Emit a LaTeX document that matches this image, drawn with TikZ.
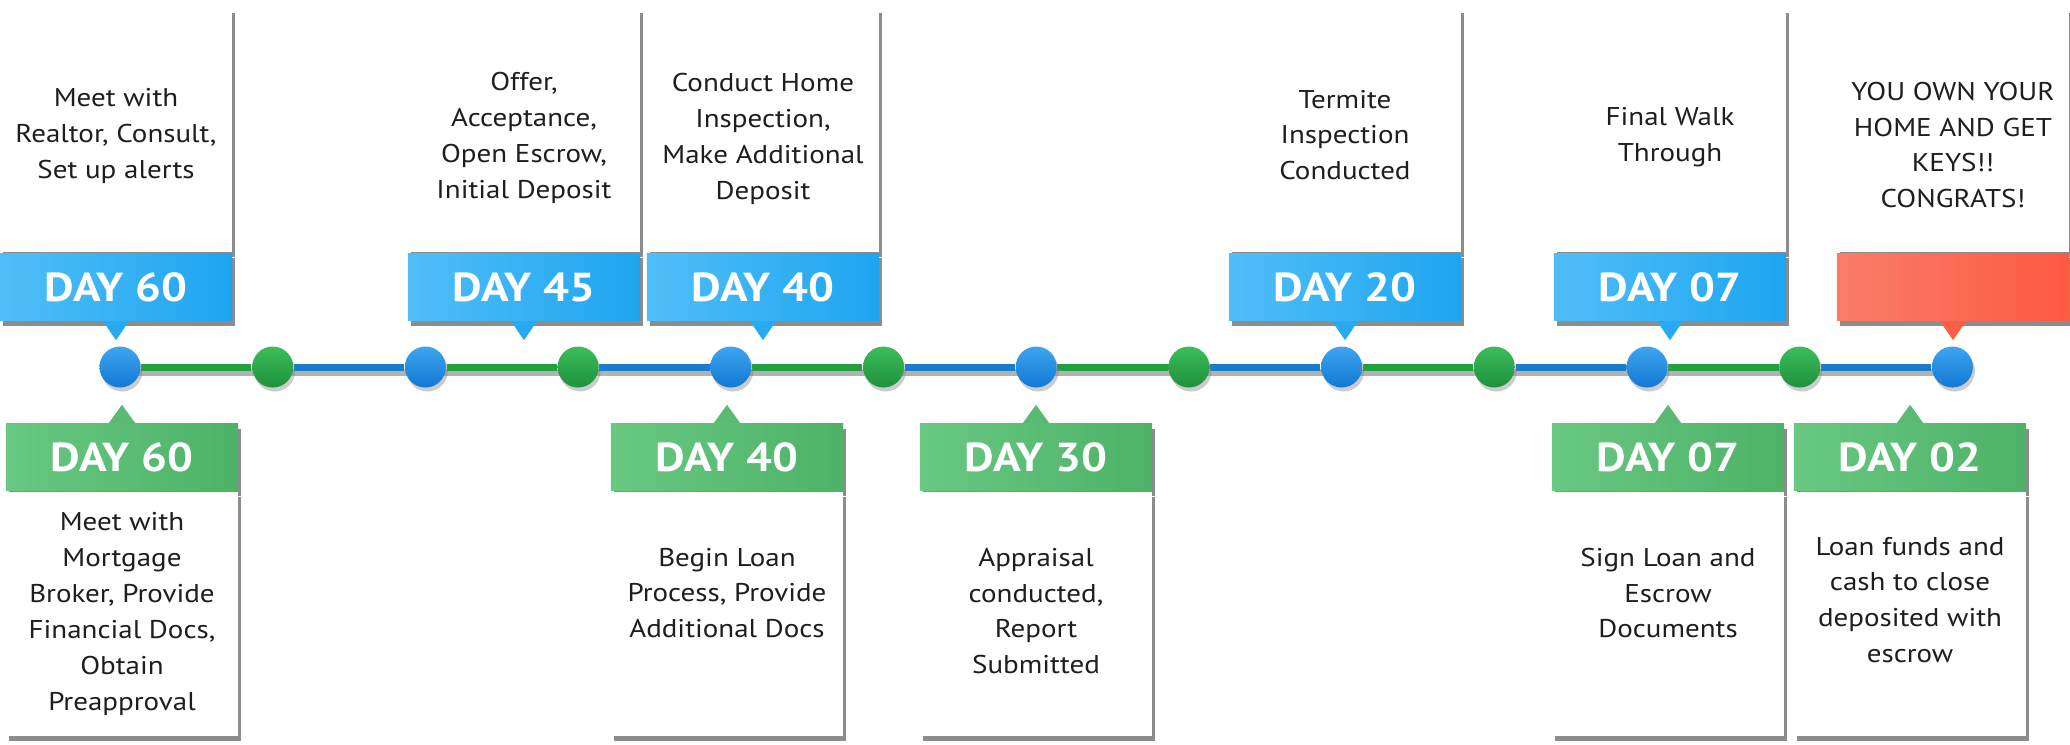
\documentclass[tikz,border=0pt]{standalone}
\usepackage{fontspec}
\setmainfont{PT Sans}[FakeStretch=1.13]
\usetikzlibrary{positioning,calc,shadows,backgrounds}

\definecolor{bluelight}{RGB}{80,190,248}
\definecolor{bluedark}{RGB}{30,165,240}
\definecolor{bluetip}{RGB}{40,170,240}
\definecolor{greenlight}{RGB}{105,200,130}
\definecolor{greendark}{RGB}{78,178,104}
\definecolor{greentip}{RGB}{90,186,115}
\definecolor{redlight}{RGB}{250,125,105}
\definecolor{reddark}{RGB}{252,90,65}
\definecolor{redtip}{RGB}{252,95,72}
\definecolor{lineblue}{RGB}{25,125,205}
\definecolor{linegreen}{RGB}{35,160,65}
\definecolor{dotbluetop}{RGB}{60,165,240}
\definecolor{dotbluebot}{RGB}{20,120,210}
\definecolor{dotgreentop}{RGB}{60,190,90}
\definecolor{dotgreenbot}{RGB}{30,145,60}
\definecolor{bodytext}{RGB}{30,30,30}

\tikzset{
  shade/.style={drop shadow={shadow xshift=0.03cm, shadow yshift=-0.05cm, fill=black, opacity=0.45}},
  card/.style={fill=white, shade, minimum width=2.32cm, minimum height=2.44cm, inner sep=0pt},
  note/.style={align=center, inner sep=0pt, text=bodytext, font=\fontsize{7.3}{10.2}\selectfont},
  band/.style={shade, minimum width=2.32cm, minimum height=0.67cm, inner sep=0pt,
    text=white, font=\fontsize{11.5}{14}\selectfont\bfseries},
  blueband/.style={band, left color=bluelight, right color=bluedark},
  greenband/.style={band, left color=greenlight, right color=greendark},
  redband/.style={band, left color=redlight, right color=reddark},
  bluedot/.style={circle, minimum size=0.41cm, inner sep=0pt, top color=dotbluetop, bottom color=dotbluebot,
    drop shadow={shadow xshift=0.02cm, shadow yshift=-0.04cm, opacity=0.4}},
  greendot/.style={bluedot, top color=dotgreentop, bottom color=dotgreenbot},
  track/.style={line width=2pt}
}

\begin{document}
\begin{tikzpicture}[x=0.01cm, y=-0.01cm]
   \useasboundingbox (0,0) rectangle (2070,744);
   % timeline dots
   \foreach \i in {1,3,...,13} \node[bluedot] (d\i) at ({120+(\i-1)*152.7},367) {};
   \foreach \i in {2,4,...,12} \node[greendot] (d\i) at ({120+(\i-1)*152.7},367) {};
   \begin{scope}[on background layer]
   \draw[track, black!30] ([yshift=-0.05cm]d1.center) -- ([yshift=-0.05cm]d13.center);
   \foreach \i/\j in {1/2,3/4,5/6,7/8,9/10,11/12} \draw[track, linegreen] (d\i) -- (d\j);
   \foreach \i/\j in {2/3,4/5,6/7,8/9,10/11,12/13} \draw[track, lineblue] (d\i) -- (d\j);
   \end{scope}

   % top cards
   \node[card] (tc1) at (116,130) {};
   \node[blueband, below=0pt of tc1] (tb1) {DAY 60};
   \node[note] (tt1) at (116,136) {Meet with\\Realtor, Consult,\\Set up alerts};
   \node[card] (tc2) at (524,130) {};
   \node[blueband, below=0pt of tc2] (tb2) {DAY 45};
   \node[note] (tt2) at (524,138) {Offer,\\Acceptance,\\Open Escrow,\\Initial Deposit};
   \node[card] (tc3) at (763,130) {};
   \node[blueband, below=0pt of tc3] (tb3) {DAY 40};
   \node[note] (tt3) at (763,139) {Conduct Home\\Inspection,\\Make Additional\\Deposit};
   \node[card] (tc4) at (1345,130) {};
   \node[blueband, below=0pt of tc4] (tb4) {DAY 20};
   \node[note] (tt4) at (1345,135) {Termite\\Inspection\\Conducted};
   \node[card] (tc5) at (1670,130) {};
   \node[blueband, below=0pt of tc5] (tb5) {DAY 07};
   \node[note] (tt5) at (1670,137) {Final Walk\\Through};
   \node[card] (tc6) at (1953,130) {};
   \node[redband, below=0pt of tc6] (tb6) {};
   \node[note] (tt6) at (1953,145) {YOU OWN YOUR\\HOME AND GET\\KEYS!!\\CONGRATS!};
   \foreach \n in {1,...,5}
     \fill[bluetip] (tb\n.south) ++(-13,0) -- ++(13,19) -- ++(13,-19) -- cycle;
   \fill[redtip] (tb6.south) ++(-13,0) -- ++(13,19) -- ++(13,-19) -- cycle;

   % bottom cards
   \node[greenband] (bb1) at (122,457) {DAY 60};
   \node[card, below=0pt of bb1] (bc1) {};
   \node[note] (bt1) at (122,614) {Meet with\\Mortgage\\Broker, Provide\\Financial Docs,\\Obtain\\Preapproval};
   \node[greenband] (bb2) at (727,457) {DAY 40};
   \node[card, below=0pt of bb2] (bc2) {};
   \node[note] (bt2) at (727,593) {Begin Loan\\Process, Provide\\Additional Docs};
   \node[greenband] (bb3) at (1036,457) {DAY 30};
   \node[card, below=0pt of bb3] (bc3) {};
   \node[note] (bt3) at (1036,611) {Appraisal\\conducted,\\Report\\Submitted};
   \node[greenband] (bb4) at (1668,457) {DAY 07};
   \node[card, below=0pt of bb4] (bc4) {};
   \node[note] (bt4) at (1668,593) {Sign Loan and\\Escrow\\Documents};
   \node[greenband] (bb5) at (1910,457) {DAY 02};
   \node[card, below=0pt of bb5] (bc5) {};
   \node[note] (bt5) at (1910,600) {Loan funds and\\cash to close\\deposited with\\escrow};
   \foreach \n in {1,...,5}
     \fill[greentip] (bb\n.north) ++(-13,0) -- ++(13,-18) -- ++(13,18) -- cycle;
\end{tikzpicture}
\end{document}
